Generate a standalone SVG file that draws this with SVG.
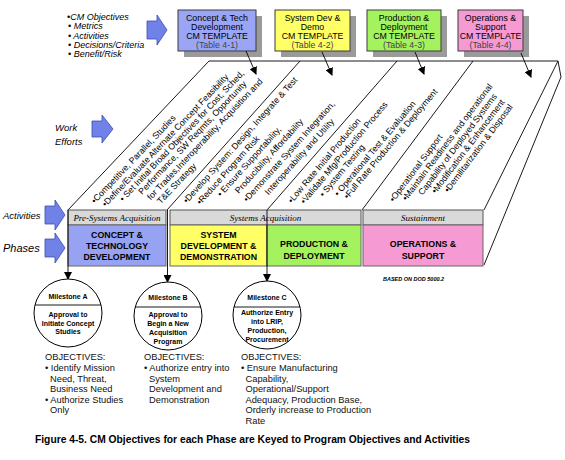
<svg xmlns="http://www.w3.org/2000/svg" width="565" height="460" viewBox="0 0 565 460">
<defs>
<marker id="ah" markerWidth="8" markerHeight="8" refX="7" refY="4" orient="auto" markerUnits="userSpaceOnUse"><path d="M0,0 L8,4 L0,8 Z" fill="#000"/></marker>
<style>
text{font-family:"Liberation Sans",Arial,sans-serif;fill:#000}
.it{font-style:italic;font-size:9px}
.lbl{font-style:italic;font-size:9.5px}
.tpl{font-size:8.8px;text-anchor:middle}
.tplb{fill:#444}
.shadow{fill:#9a9a9a}
.box{stroke:#3a3a3a;stroke-width:1}
.arrow{fill:#7082e8;stroke:#3b4bb0;stroke-width:0.8}
.sl{font-size:8.8px}
.bar{fill:#d9d9d9;stroke:#555;stroke-width:1}
.bart{font-family:"Liberation Serif","Times New Roman",serif;font-style:italic;font-size:9px;text-anchor:middle}
.ph{stroke:#666;stroke-width:1}
.pht{font-weight:bold;font-size:8.8px;text-anchor:middle}
.ln{stroke:#000;stroke-width:0.9;fill:none}
.ms{fill:#fff;stroke:#000;stroke-width:1}
.mst{font-weight:bold;font-size:7px;text-anchor:middle}
.obj{font-size:9.3px;fill:#111}
</style>
</defs>
<rect width="565" height="460" fill="#fff"/>

<g id="legend">
<text class="it" x="67" y="20">•CM Objectives</text>
<text class="it" x="68" y="29">• Metrics</text>
<text class="it" x="68" y="38.5">• Activities</text>
<text class="it" x="68" y="47.5">• Decisions/Criteria</text>
<text class="it" x="68" y="56.5">• Benefit/Risk</text>
<polygon class="arrow" points="147,21 157,21 157,15 167,30 157,45 157,39 147,39"/>
</g>

<g id="tpl1">
<rect class="shadow" x="184" y="16" width="78" height="41"/>
<rect class="box" x="178" y="10" width="78" height="41" fill="#9aa6f5"/>
<text class="tpl" x="217" y="20.5">Concept &amp; Tech</text>
<text class="tpl" x="217" y="29.5">Development</text>
<text class="tpl" x="217" y="38.5">CM TEMPLATE</text>
<text class="tpl tplb" x="217" y="47.5">(Table 4-1)</text>
</g>
<g id="tpl2">
<rect class="shadow" x="281" y="16" width="75" height="41"/>
<rect class="box" x="275" y="10" width="75" height="41" fill="#ffff66"/>
<text class="tpl" x="312.5" y="20.5">System Dev &amp;</text>
<text class="tpl" x="312.5" y="29.5">Demo</text>
<text class="tpl" x="312.5" y="38.5">CM TEMPLATE</text>
<text class="tpl tplb" x="312.5" y="47.5">(Table 4-2)</text>
</g>
<g id="tpl3">
<rect class="shadow" x="373" y="16" width="74" height="41"/>
<rect class="box" x="367" y="10" width="74" height="41" fill="#a3f25e"/>
<text class="tpl" x="404" y="20.5">Production &amp;</text>
<text class="tpl" x="404" y="29.5">Deployment</text>
<text class="tpl" x="404" y="38.5">CM TEMPLATE</text>
<text class="tpl tplb" x="404" y="47.5">(Table 4-3)</text>
</g>
<g id="tpl4">
<rect class="shadow" x="464" y="16" width="65" height="41"/>
<rect class="box" x="458" y="10" width="65" height="41" fill="#f59ad2"/>
<text class="tpl" x="490.5" y="20.5">Operations &amp;</text>
<text class="tpl" x="490.5" y="29.5">Support</text>
<text class="tpl" x="490.5" y="38.5">CM TEMPLATE</text>
<text class="tpl tplb" x="490.5" y="47.5">(Table 4-4)</text>
</g>

<g id="frame">
<path class="ln" d="M209,61 L558,61 L561,77 L484,265"/>
<path class="ln" d="M558,61 L484,210"/>
<path class="ln" d="M209,61 L68,210"/>
<path class="ln" d="M300,61 L167,210"/>
<path class="ln" d="M397,61 L267,210"/>
<path class="ln" d="M473,61 L362,210"/>
</g>

<g id="work-labels">
<text class="lbl" x="55" y="131">Work</text>
<text class="lbl" x="55" y="144.5">Efforts</text>
<polygon class="arrow" points="92,121 102,121 102,115 113,129 102,143 102,137 92,137"/>
<text class="lbl" x="3" y="219">Activities</text>
<polygon class="arrow" points="45,206 55,206 55,200 65,215 55,230 55,224 45,224"/>
<text x="3" y="251.5" style="font-style:italic;font-size:11px">Phases</text>
<polygon class="arrow" points="45,239 55,239 55,233 65,248 55,263 55,257 45,257"/>
</g>

<g id="efforts1">
<text class="sl" transform="translate(95,204) rotate(-46.5)">•Competitive, Parallel, Studies</text>
<text class="sl" transform="translate(105.7,207.3) rotate(-46.5)">•Define/Evaluate Alternate Concept Feasibility</text>
<text class="sl" transform="translate(123.2,201.9) rotate(-46.5)">• Set Initial Broad Objectives for Cost, Sched,</text>
<text class="sl" transform="translate(142.1,195) rotate(-46.5)">Performance, SW Reqmts, Opportunity</text>
<text class="sl" transform="translate(150.8,200.4) rotate(-46.5)">for Trades,Interoperability, Acquisition and</text>
<text class="sl" transform="translate(160.8,204.4) rotate(-46.5)">T&amp;E Strategy</text>
</g>
<g id="efforts2">
<text class="sl" transform="translate(187,203.7) rotate(-48)">•Develop System: Design, Integrate &amp; Test</text>
<text class="sl" transform="translate(200.4,205.3) rotate(-48)">•Reduce Program Risk</text>
<text class="sl" transform="translate(220.9,197.3) rotate(-48)">• Ensure Supportability,</text>
<text class="sl" transform="translate(238.8,194) rotate(-48)">Producibility, Affordability</text>
<text class="sl" transform="translate(247.3,202.4) rotate(-48)">•Demonstrate System Integration,</text>
<text class="sl" transform="translate(268.5,195.4) rotate(-48)">Interoperability and Utility</text>
</g>
<g id="efforts3">
<text class="sl" transform="translate(292,203.7) rotate(-50)">•Low Rate Initial Production</text>
<text class="sl" transform="translate(304.5,204.4) rotate(-50)">•Validate Mfg/Production Process</text>
<text class="sl" transform="translate(323.4,197.4) rotate(-50)">• System Testing</text>
<text class="sl" transform="translate(338.2,196.8) rotate(-50)">• Operational Test &amp; Evaluation</text>
<text class="sl" transform="translate(347.7,199.5) rotate(-50)">•Full Rate Production &amp; Deployment</text>
</g>
<g id="efforts4">
<text class="sl" transform="translate(393.7,202.5) rotate(-53)">•Operational Support</text>
<text class="sl" transform="translate(406.5,201.2) rotate(-53)">•Maintain Readiness and operational</text>
<text class="sl" transform="translate(422.6,195.7) rotate(-53)">Capability of Deployed Systems</text>
<text class="sl" transform="translate(435.8,194.1) rotate(-53)">•Modification &amp; Enhancement</text>
<text class="sl" transform="translate(448.4,193.1) rotate(-53)">•Demilitarization &amp; Disposal</text>
</g>

<g id="activities">
<rect class="bar" x="68" y="210" width="98" height="15"/>
<text class="bart" x="117" y="221">Pre-Systems Acquisition</text>
<rect class="bar" x="170" y="210" width="191" height="15"/>
<text class="bart" x="265.5" y="221">Systems Acquisition</text>
<rect class="bar" x="363" y="210" width="120" height="15"/>
<text class="bart" x="423" y="221">Sustainment</text>
</g>

<g id="phase1">
<rect class="ph" x="68" y="225" width="98" height="41" fill="#97a3f2"/>
<text class="pht" x="117" y="238">CONCEPT &amp;</text>
<text class="pht" x="117" y="249">TECHNOLOGY</text>
<text class="pht" x="117" y="260">DEVELOPMENT</text>
</g>
<g id="phase2">
<rect class="ph" x="170" y="225" width="97" height="41" fill="#ffff66"/>
<text class="pht" x="218.5" y="237.5">SYSTEM</text>
<text class="pht" x="218.5" y="248.5">DEVELOPMENT &amp;</text>
<text class="pht" x="218.5" y="259.5">DEMONSTRATION</text>
</g>
<g id="phase3">
<rect class="ph" x="267" y="225" width="94" height="41" fill="#a3f25e"/>
<text class="pht" x="314" y="246.5">PRODUCTION &amp;</text>
<text class="pht" x="314" y="259">DEPLOYMENT</text>
</g>
<g id="phase4">
<rect class="ph" x="363" y="225" width="120" height="41" fill="#f59ad2"/>
<text class="pht" x="423" y="246.5">OPERATIONS &amp;</text>
<text class="pht" x="423" y="258.5">SUPPORT</text>
</g>
<text x="383" y="281" style="font-size:5.5px;font-weight:bold;font-style:italic">BASED ON DOD 5000.2</text>

<g id="connectors">
<line class="ln" x1="246" y1="51" x2="256" y2="74" marker-end="url(#ah)"/>
<line class="ln" x1="322" y1="52" x2="332" y2="75" marker-end="url(#ah)"/>
<line class="ln" x1="415" y1="52" x2="424" y2="74" marker-end="url(#ah)"/>
<line class="ln" x1="521" y1="53" x2="531" y2="77" marker-end="url(#ah)"/>
<line class="ln" x1="68" y1="210" x2="68" y2="279" marker-end="url(#ah)"/>
<line class="ln" x1="167.5" y1="210" x2="167.5" y2="282" marker-end="url(#ah)"/>
<line class="ln" x1="267" y1="210" x2="267" y2="281" marker-end="url(#ah)"/>
</g>

<g id="milestoneA">
<circle class="ms" cx="68" cy="313" r="34"/>
<line class="ln" x1="35" y1="305" x2="101" y2="305"/>
<text class="mst" x="68" y="298.5">Milestone A</text>
<text class="mst" x="68" y="317">Approval to</text>
<text class="mst" x="68" y="325.5">Initiate Concept</text>
<text class="mst" x="68" y="334">Studies</text>
</g>
<g id="milestoneB">
<circle class="ms" cx="168" cy="316" r="34"/>
<line class="ln" x1="135" y1="307" x2="201" y2="307"/>
<text class="mst" x="168" y="300">Milestone B</text>
<text class="mst" x="168" y="317">Approval to</text>
<text class="mst" x="168" y="325.5">Begin a New</text>
<text class="mst" x="168" y="334.5">Acquisition</text>
<text class="mst" x="168" y="343.5">Program</text>
</g>
<g id="milestoneC">
<circle class="ms" cx="267" cy="315" r="34"/>
<line class="ln" x1="234" y1="307" x2="300" y2="307"/>
<text class="mst" x="267" y="300">Milestone C</text>
<text class="mst" x="267" y="315">Authorize Entry</text>
<text class="mst" x="267" y="324">into LRIP,</text>
<text class="mst" x="267" y="333">Production,</text>
<text class="mst" x="267" y="342">Procurement</text>
</g>

<g id="objA">
<text class="obj" x="45" y="360">OBJECTIVES:</text>
<text class="obj" x="45" y="371">• Identify Mission</text>
<text class="obj" x="50" y="381.6">Need, Threat,</text>
<text class="obj" x="50" y="392.2">Business Need</text>
<text class="obj" x="45" y="402.8">• Authorize Studies</text>
<text class="obj" x="50" y="413.4">Only</text>
</g>
<g id="objB">
<text class="obj" x="144" y="360">OBJECTIVES:</text>
<text class="obj" x="144" y="371">• Authorize entry into</text>
<text class="obj" x="149" y="381.6">System</text>
<text class="obj" x="149" y="392.2">Development and</text>
<text class="obj" x="149" y="402.8">Demonstration</text>
</g>
<g id="objC">
<text class="obj" x="241" y="360">OBJECTIVES:</text>
<text class="obj" x="241" y="371">• Ensure Manufacturing</text>
<text class="obj" x="245.5" y="381.6">Capability,</text>
<text class="obj" x="245.5" y="392.2">Operational/Support</text>
<text class="obj" x="245.5" y="402.8">Adequacy, Production Base,</text>
<text class="obj" x="245.5" y="413.4">Orderly increase to Production</text>
<text class="obj" x="245.5" y="424">Rate</text>
</g>

<text x="35" y="443" textLength="435" lengthAdjust="spacingAndGlyphs" style="font-weight:bold;font-size:10px">Figure 4-5.  CM Objectives for each Phase are Keyed to Program Objectives and Activities</text>
</svg>
